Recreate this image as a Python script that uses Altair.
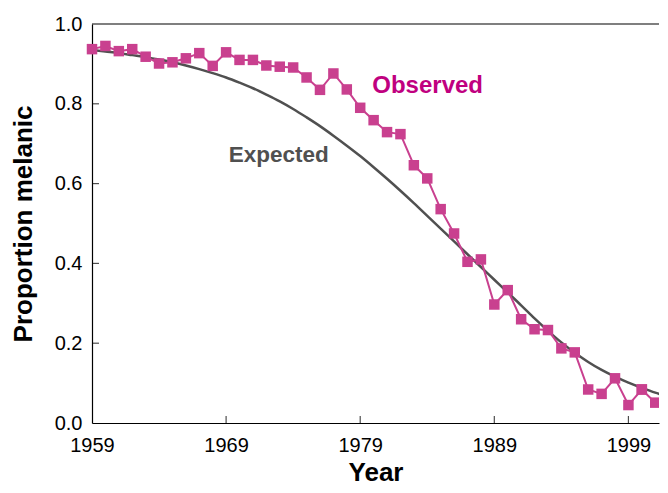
import altair as alt
import pandas as pd

years = list(range(1959, 2003))
observed = [0.937, 0.945, 0.932, 0.937, 0.918, 0.901, 0.904, 0.914, 0.927, 0.895,
            0.929, 0.910, 0.910, 0.896, 0.893, 0.891, 0.866, 0.835, 0.876, 0.836,
            0.790, 0.759, 0.729, 0.724, 0.646, 0.613, 0.536, 0.475, 0.404, 0.410,
            0.297, 0.333, 0.260, 0.235, 0.233, 0.187, 0.177, 0.084, 0.073, 0.112,
            0.045, 0.084, 0.051, 0.028]
expected = [0.935, 0.931, 0.927, 0.922, 0.917, 0.911, 0.904, 0.896, 0.887, 0.877,
            0.866, 0.853, 0.839, 0.823, 0.806, 0.787, 0.766, 0.744, 0.720, 0.695,
            0.669, 0.641, 0.612, 0.582, 0.551, 0.519, 0.487, 0.455, 0.423, 0.391,
            0.359, 0.327, 0.295, 0.262, 0.231, 0.202, 0.176, 0.153, 0.133, 0.116,
            0.101, 0.088, 0.076, 0.066]
x_ticks = [1969, 1979, 1989, 1999]
y_ticks = [0.2, 0.4, 0.6, 0.8]

df = pd.DataFrame({"Year": years, "Observed": observed, "Expected": expected})
xt = pd.DataFrame({"t": x_ticks})
yt = pd.DataFrame({"t": y_ticks})
one = pd.DataFrame({"k": [0]})

FONT = "Liberation Sans"
OBS = "#c9408f"
EXP = "#505050"

xscale = alt.Scale(domain=[1959, 2001.28], nice=False, zero=False)
yscale = alt.Scale(domain=[0, 1], nice=False)

xaxis = alt.Axis(values=[1959, 1969, 1979, 1989, 1999], format="d", title="Year",
                 tickSize=0, labelPadding=12, titlePadding=4, grid=False, labelFlush=False)
yaxis = alt.Axis(values=[0, 0.2, 0.4, 0.6, 0.8, 1.0], format=".1f", title="Proportion melanic",
                 tickSize=0, labelPadding=10, titlePadding=18, grid=False, labelFlush=False)

base = alt.Chart(df)

exp_line = base.mark_line(color=EXP, strokeWidth=2.5, interpolate="monotone", clip=True).encode(
    x=alt.X("Year:Q", scale=xscale, axis=xaxis),
    y=alt.Y("Expected:Q", scale=yscale, axis=yaxis),
)

obs_main = base.transform_filter(alt.datum.Year <= 2000)
obs_line = obs_main.mark_line(color=OBS, strokeWidth=2).encode(
    x="Year:Q", y="Observed:Q")
obs_pts = obs_main.mark_point(shape="square", filled=True, size=110, color=OBS, opacity=1).encode(
    x="Year:Q", y="Observed:Q")

obs_end = base.transform_filter(alt.datum.Year >= 2000)
end_line = obs_end.mark_line(color=OBS, strokeWidth=2, clip=True).encode(
    x="Year:Q", y="Observed:Q")
end_pts = obs_end.mark_point(shape="square", filled=True, size=110, color=OBS, opacity=1, clip=True).encode(
    x="Year:Q", y="Observed:Q")

top_rule = alt.Chart(one).mark_rule(color="black", strokeWidth=1.2).encode(y=alt.datum(1.0))

xticks = alt.Chart(xt).mark_tick(orient="vertical", size=14, thickness=1.2, color="black", clip=True).encode(
    x="t:Q", y=alt.datum(0))
yticks = alt.Chart(yt).mark_tick(orient="horizontal", size=14, thickness=1.2, color="black", clip=True).encode(
    y="t:Q", x=alt.datum(1959))

lab_obs = alt.Chart(one).mark_text(text="Observed", font=FONT, fontSize=24, fontWeight="bold",
                                   color="#c0007f", align="left", baseline="alphabetic").encode(
    x=alt.datum(1979.9), y=alt.datum(0.826))
lab_exp = alt.Chart(one).mark_text(text="Expected", font=FONT, fontSize=22.5, fontWeight="bold",
                                   color=EXP, align="left", baseline="alphabetic").encode(
    x=alt.datum(1969.2), y=alt.datum(0.654))

chart = alt.layer(exp_line, obs_line, obs_pts, end_line, end_pts, top_rule, xticks, yticks,
                  lab_obs, lab_exp).properties(
    width=652, height=477,
    autosize=alt.AutoSizeParams(type="fit", contains="padding"),
    padding={"left": 2, "top": 6, "right": 0, "bottom": 0},
).configure_view(stroke=None).configure_axis(
    labelFont=FONT, titleFont=FONT, labelFontSize=20, titleFontSize=26,
    labelColor="black", titleColor="black", titleFontWeight="bold",
    domainColor="black", domainWidth=1.2,
)

chart.save("out.html", embed_options={"renderer": "svg", "actions": False})
